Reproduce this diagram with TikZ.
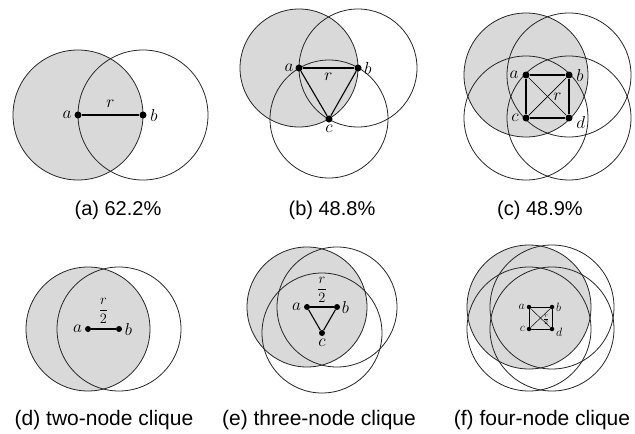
\documentclass[tikz,border=0pt]{standalone}
\usepackage{fontspec}
\newfontfamily\capfont{Liberation Sans}
\usetikzlibrary{positioning}
\pgfdeclarelayer{back}
\pgfsetlayers{back,main}

\begin{document}
\begin{tikzpicture}[x=1pt,y=-1pt,
  dot/.style={circle,fill=black,inner sep=0pt,minimum size=#1},dot/.default=7pt,
  lbl/.style={inner sep=0.5pt,font=\fontsize{#1}{#1}\selectfont},lbl/.default=18,
  link/.style={line width=1.1pt},
  diag/.style={line width=0.7pt},
  ring/.style={draw=black!85,line width=0.8pt},
  grayarea/.style={fill=black!15},
  cap/.style={anchor=base,inner sep=0pt,font=\capfont\fontsize{#1}{#1}\selectfont},cap/.default=20]
\useasboundingbox (0,0) rectangle (635,434);
% (a) two nodes
\node[dot] (a1) at (78,115) {}; \node[dot] (b1) at (143,115) {};
\node[lbl,left=2pt of a1] (la1) {$a$}; \node[lbl,right=3pt of b1] (lb1) {$b$};
\draw[link] (a1) -- node[lbl,above=6pt] (r1) {$r$} (b1);
\node[cap] (capa) at (118,215) {(a) 62.2\%};
% (b) three nodes
\node[dot] (a2) at (299,68) {}; \node[dot] (b2) at (358,68) {}; \node[dot] (c2) at (329,119) {};
\node[lbl,left=1pt of a2] (la2) {$a$}; \node[lbl,right=2pt of b2] (lb2) {$b$};
\node[lbl,below=2pt of c2] (lc2) {$c$};
\draw[link] (a2) -- node[lbl,below=4pt] (r2) {$r$} (b2);
\draw[link] (a2) -- (c2); \draw[link] (b2) -- (c2);
\node[cap] (capb) at (332,215) {(b) 48.8\%};
% (c) four nodes
\node[dot] (a3) at (526,75) {}; \node[dot] (b3) at (569,75) {};
\node[dot] (c3) at (526,118) {}; \node[dot] (d3) at (569,118) {};
\node[lbl=17,left=3pt of a3] (la3) {$a$}; \node[lbl=17,right=3pt of b3] (lb3) {$b$};
\node[lbl=17,left=3pt of c3] (lc3) {$c$}; \node[lbl=17,right=3pt of d3,yshift=-4pt] (ld3) {$d$};
\draw[link] (a3) -- (b3) -- (d3) -- (c3) -- (a3);
\draw[diag] (a3) -- node[lbl=17,right=5pt] (r3) {$r$} (d3); \draw[diag] (b3) -- (c3);
\node[cap] (capc) at (540,215) {(c) 48.9\%};
% (d) two-node clique
\node[dot=6pt] (a4) at (88,329) {}; \node[dot=6pt] (b4) at (119,329) {};
\node[lbl=16,left=2pt of a4] (la4) {$a$}; \node[lbl=16,right=2pt of b4] (lb4) {$b$};
\draw[link] (a4) -- node[lbl=14,above=4pt] (r4) {$\displaystyle\frac{r}{2}$} (b4);
\node[cap=21] (capd) at (104,425) {(d) two-node clique};
% (e) three-node clique
\node[dot=6pt] (a5) at (307,307) {}; \node[dot=6pt] (b5) at (337,307) {}; \node[dot=6pt] (c5) at (322,333) {};
\node[lbl=16,left=2pt of a5] (la5) {$a$}; \node[lbl=16,right=1pt of b5] (lb5) {$b$};
\node[lbl=16,below=2pt of c5] (lc5) {$c$};
\draw[link] (a5) -- node[lbl=14,above=3pt] (r5) {$\displaystyle\frac{r}{2}$} (b5);
\draw[link] (a5) -- (c5); \draw[link] (b5) -- (c5);
\node[cap=21] (cape) at (319,425) {(e) three-node clique};
% (f) four-node clique
\node[dot=4.5pt] (a6) at (529,307) {}; \node[dot=4.5pt] (b6) at (552,307) {};
\node[dot=4.5pt] (c6) at (529,329) {}; \node[dot=4.5pt] (d6) at (552,329) {};
\node[lbl=12,left=1pt of a6] (la6) {$a$}; \node[lbl=12,right=1pt of b6] (lb6) {$b$};
\node[lbl=12,left=1pt of c6] (lc6) {$c$}; \node[lbl=12,right=1pt of d6,yshift=-3pt] (ld6) {$d$};
\draw[link,line width=1pt] (a6) -- (b6) -- (d6) -- (c6) -- (a6);
\draw[diag,line width=0.5pt] (a6) -- node[lbl=9,pos=0.6,right=0pt] (r6) {$\frac{r}{2}$} (d6); \draw[diag,line width=0.5pt] (b6) -- (c6);
\node[cap=21] (capf) at (542,425) {(f) four-node clique};
% shaded disc around a, then the rings
\begin{pgfonlayer}{back}
\fill[grayarea] (a1.center) circle[radius=65]; \fill[grayarea] (a2.center) circle[radius=59];
\fill[grayarea] (a3.center) circle[radius=62]; \fill[grayarea] (a4.center) circle[radius=62];
\fill[grayarea] (a5.center) circle[radius=60]; \fill[grayarea] (a6.center) circle[radius=62];
\foreach \n in {a1,b1} \draw[ring] (\n.center) circle[radius=65];
\foreach \n in {a2,b2,c2} \draw[ring] (\n.center) circle[radius=59];
\foreach \n in {a3,b3,c3,d3} \draw[ring] (\n.center) circle[radius=62];
\foreach \n in {a4,b4} \draw[ring] (\n.center) circle[radius=62];
\foreach \n in {a5,b5,c5} \draw[ring] (\n.center) circle[radius=60];
\foreach \n in {a6,b6,c6,d6} \draw[ring] (\n.center) circle[radius=62];
\end{pgfonlayer}
\end{tikzpicture}
\end{document}
